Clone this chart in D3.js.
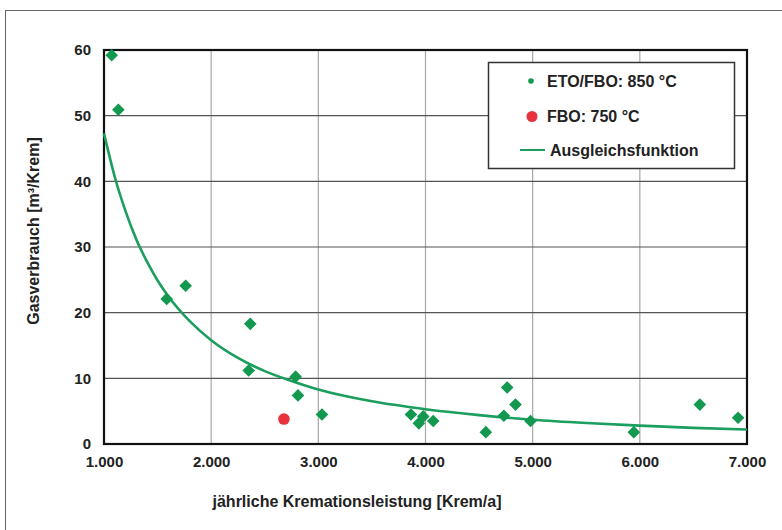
<!DOCTYPE html>
<html><head><meta charset="utf-8">
<script src="https://cdn.jsdelivr.net/npm/d3@7"></script>
<style>
body{margin:0;background:#fff;}
text{font-family:"Liberation Sans",Arial,sans-serif;font-weight:bold;fill:#222;}
</style></head>
<body>
<svg id="chart" width="782" height="530"></svg>
<script>
// Data
const etoX = [1072,1134,1585,1762,2365,2350,2788,2810,3034,3864,3938,3979,4072,4563,4731,4762,4840,4980,5944,6560,6917];
const etoY = [59.2,50.9,22.1,24.1,18.3,11.2,10.25,7.4,4.5,4.5,3.15,4.2,3.5,1.8,4.3,8.6,6.0,3.5,1.8,6.0,4.0];
const fboX = [2679];
const fboY = [3.8];
const fitX = [1000,1100,1200,1300,1400,1500,1600,1800,2000,2250,2500,2750,3000,3500,4000,4500,5000,5500,6000,6500,7000];
const fitY = [47.3,40.7,35.5,31.2,27.8,24.9,22.5,18.7,15.8,13.1,11.1,9.6,8.3,6.5,5.3,4.4,3.7,3.2,2.8,2.45,2.2];
const xTicks = [1000,2000,3000,4000,5000,6000,7000];
const yTicks = [0,10,20,30,40,50,60];
const legendLabels = ["ETO/FBO: 850 °C","FBO: 750 °C","Ausgleichsfunktion"];

const svg = d3.select("#chart");
const green = "#12994f", lineGreen = "#1b9e5e", red = "#e8323c";
const L = 104, R = 747, T = 50, B = 444;
const ff = "'Liberation Sans',Arial,sans-serif";

// outer frame
svg.append("rect").attr("x",5.5).attr("y",10.5).attr("width",800).attr("height",600)
  .attr("fill","none").attr("stroke","#666").attr("stroke-width",1);

const x = d3.scaleLinear().domain([1000,7000]).range([L,R]);
const y = d3.scaleLinear().domain([0,60]).range([B,T]);

// gridlines
svg.append("g").selectAll("line").data(xTicks.slice(1,-1)).join("line")
  .attr("x1",d=>x(d)).attr("x2",d=>x(d)).attr("y1",T).attr("y2",B)
  .attr("stroke","#a8a8a8").attr("stroke-width",1.2);
svg.append("g").selectAll("line").data(yTicks.slice(1,-1)).join("line")
  .attr("x1",L).attr("x2",R).attr("y1",d=>y(d)).attr("y2",d=>y(d))
  .attr("stroke","#555").attr("stroke-width",1.2);

// axes (labels only)
const fmt = d => d3.format(",")(d).replace(",",".");
const xAxis = svg.append("g").attr("transform",`translate(0,${B})`)
  .call(d3.axisBottom(x).tickValues(xTicks).tickFormat(fmt).tickSize(0).tickPadding(12));
xAxis.select(".domain").remove();
xAxis.selectAll("text").attr("font-size",15).style("font-family",ff).style("font-weight","bold").attr("fill","#222");
const yAxis = svg.append("g").attr("transform",`translate(${L},0)`)
  .call(d3.axisLeft(y).tickValues(yTicks).tickSize(0).tickPadding(13));
yAxis.select(".domain").remove();
yAxis.selectAll("text").attr("font-size",15).style("font-family",ff).style("font-weight","bold").attr("fill","#222");

// plot border
svg.append("rect").attr("x",L).attr("y",T).attr("width",R-L).attr("height",B-T)
  .attr("fill","none").attr("stroke","#111").attr("stroke-width",2.2);

// fit curve
const fit = fitX.map((d,i)=>[d,fitY[i]]);
svg.append("path").datum(fit)
  .attr("d", d3.line().x(d=>x(d[0])).y(d=>y(d[1])).curve(d3.curveMonotoneX))
  .attr("fill","none").attr("stroke",lineGreen).attr("stroke-width",2.6);

// ETO/FBO diamonds
const diamond = d3.symbol().type(d3.symbolSquare).size(80);
svg.append("g").selectAll("path").data(etoX.map((d,i)=>[d,etoY[i]])).join("path")
  .attr("d",diamond)
  .attr("transform",d=>`translate(${x(d[0])},${y(d[1])}) rotate(45)`)
  .attr("fill",green);

// FBO circle
svg.append("g").selectAll("circle").data(fboX.map((d,i)=>[d,fboY[i]])).join("circle")
  .attr("cx",d=>x(d[0])).attr("cy",d=>y(d[1])).attr("r",5.8).attr("fill",red);

// axis titles
svg.append("text").attr("x",357).attr("y",507).attr("text-anchor","middle")
  .attr("font-size",16).text("jährliche Kremationsleistung [Krem/a]");
svg.append("text").attr("transform","translate(39,231) rotate(-90)").attr("text-anchor","middle")
  .attr("font-size",16).text("Gasverbrauch [m³/Krem]");

// legend
const lg = svg.append("g");
lg.append("rect").attr("x",488.5).attr("y",62.5).attr("width",246).attr("height",106)
  .attr("fill","#fff").attr("stroke","#333").attr("stroke-width",1.5);
lg.append("circle").attr("cx",531).attr("cy",81).attr("r",2.8).attr("fill",green);
lg.append("circle").attr("cx",532).attr("cy",116.5).attr("r",5.5).attr("fill",red);
lg.append("line").attr("x1",520).attr("x2",545).attr("y1",150).attr("y2",150)
  .attr("stroke",lineGreen).attr("stroke-width",2);
const ly = [81,116.5,150], lx = [547,547,550];
lg.selectAll("text.lab").data(legendLabels).join("text").attr("class","lab")
  .attr("x",(d,i)=>lx[i]).attr("y",(d,i)=>ly[i]).attr("dy","0.36em")
  .attr("font-size",16).text(d=>d);
</script>
</body></html>
